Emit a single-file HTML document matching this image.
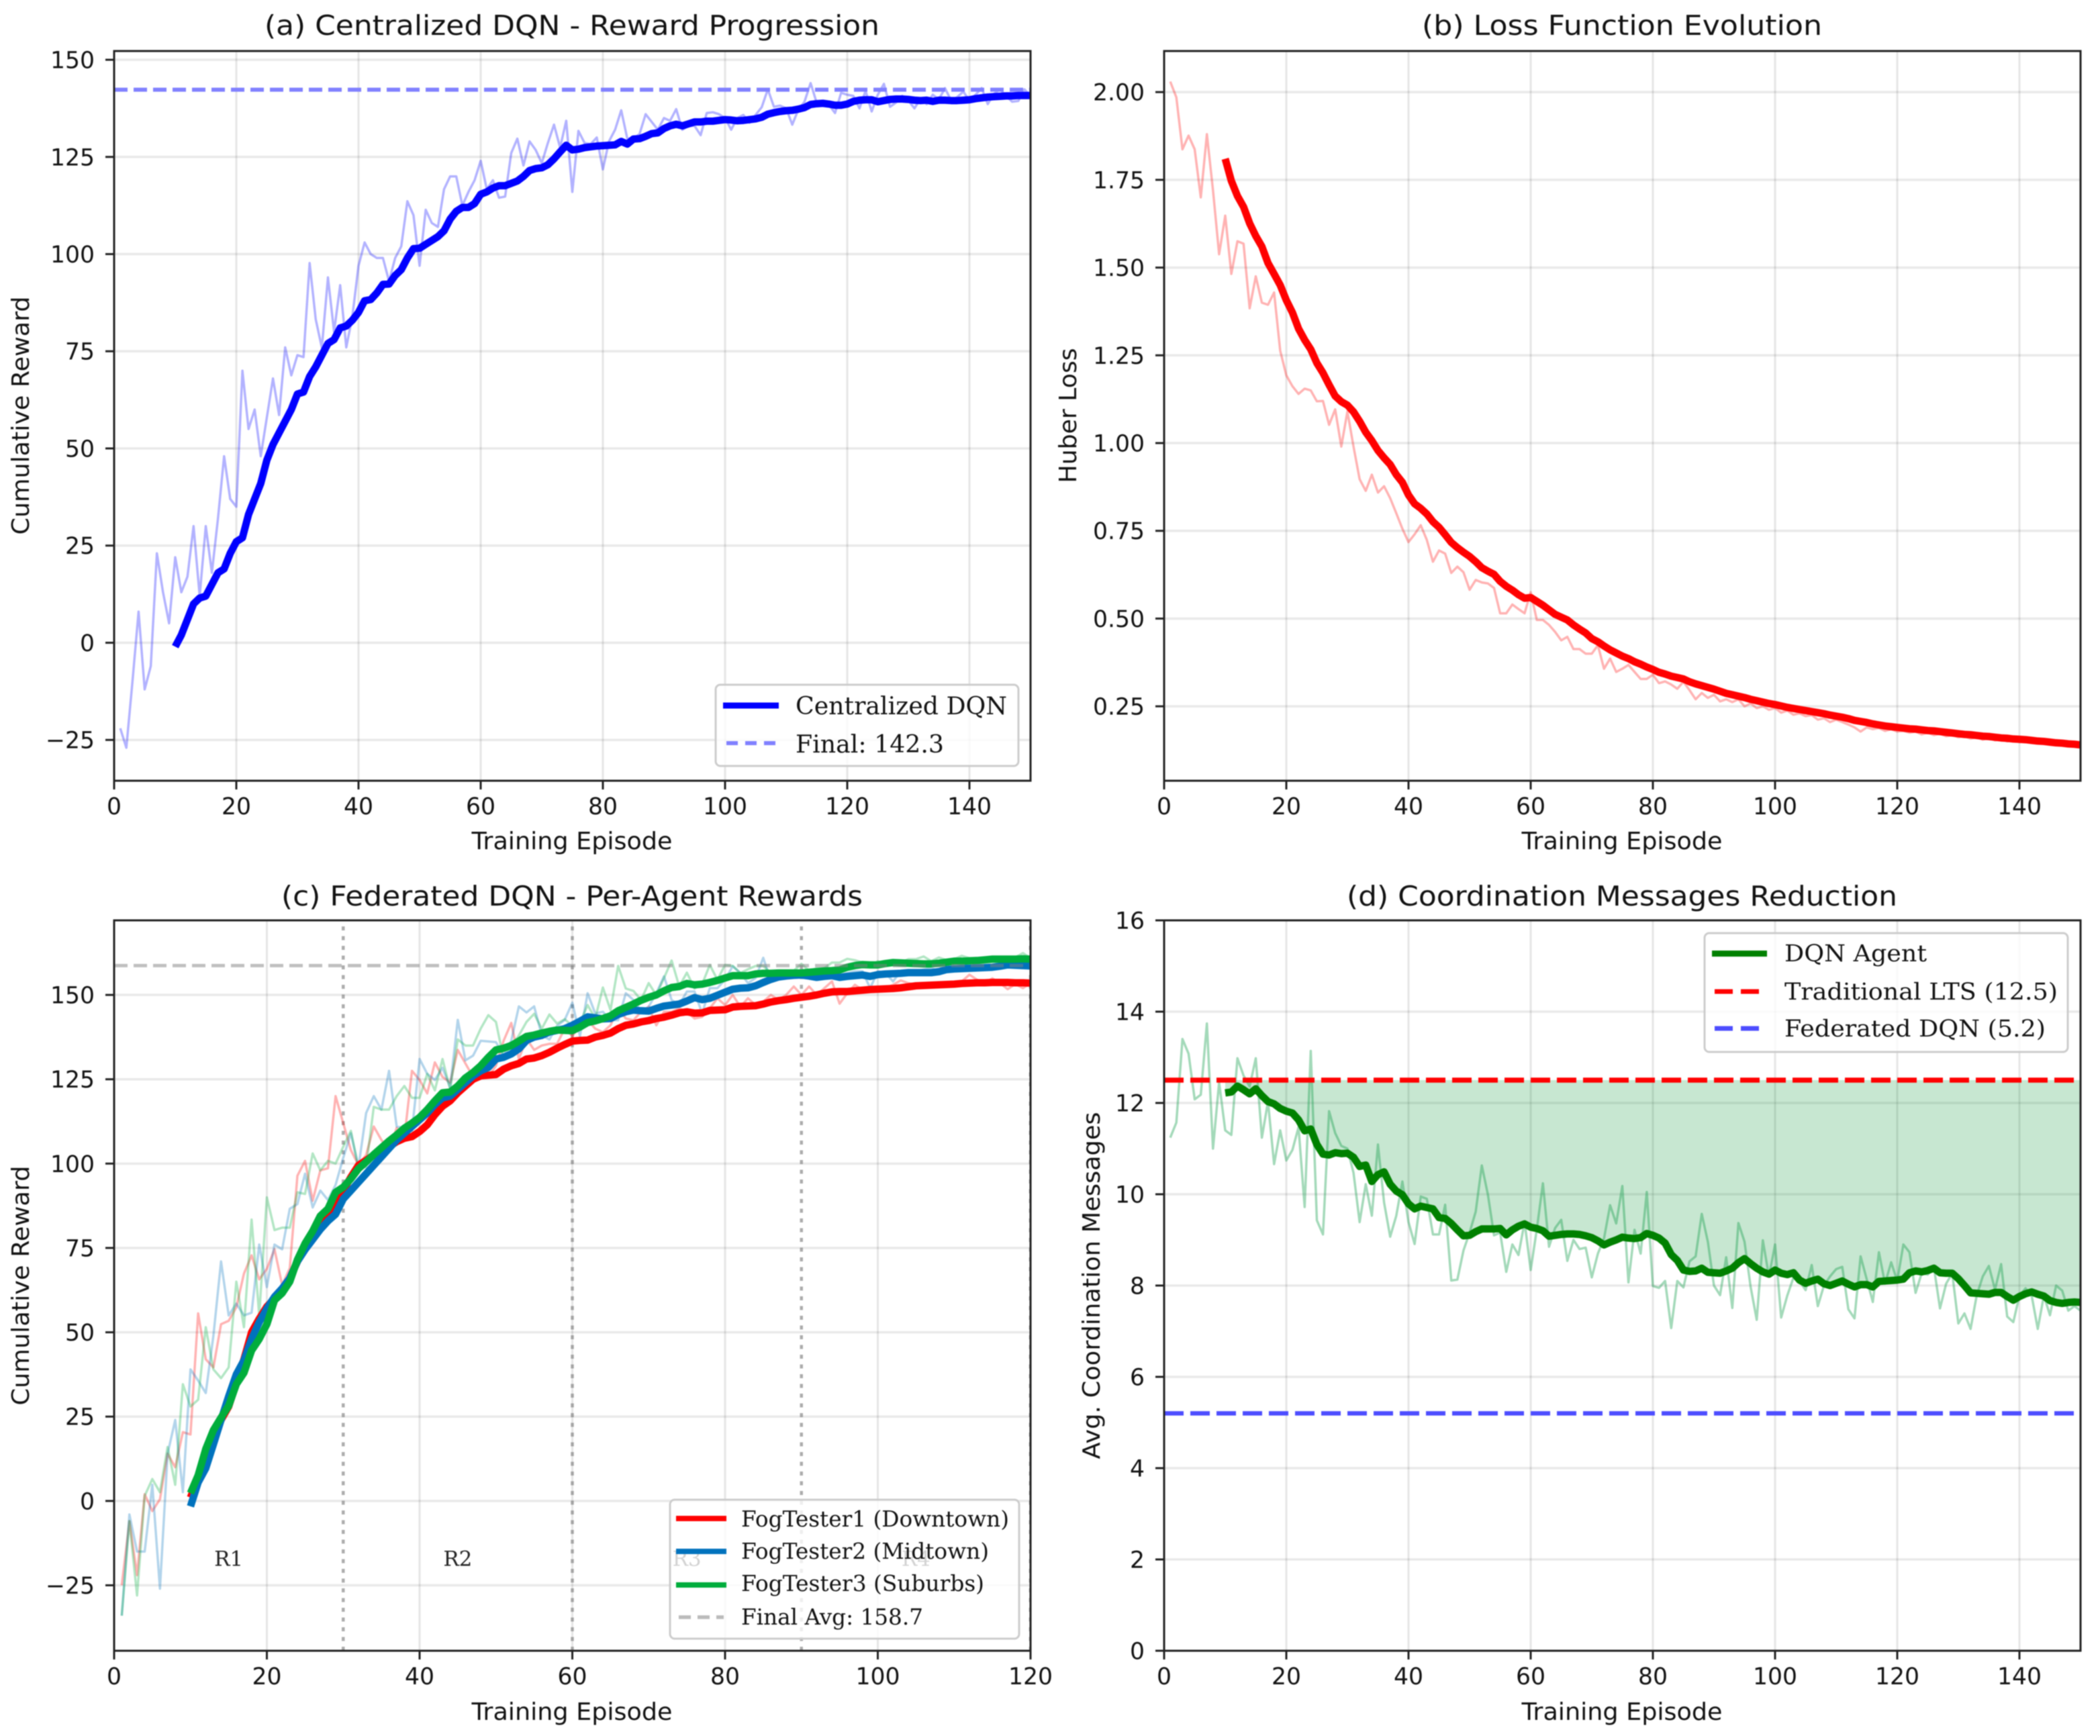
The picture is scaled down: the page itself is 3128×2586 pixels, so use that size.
<!DOCTYPE html>
<html lang="en">
<head>
<meta charset="utf-8">
<title>DQN training results</title>
<style>
html,body{margin:0;padding:0;background:#fff;width:3128px;height:2586px;overflow:hidden}
svg{display:block;filter:blur(0.9px)}
text{fill:#111;font-family:"DejaVu Sans","Liberation Sans",sans-serif}
.title{font-size:41px;text-anchor:middle}
.alabel{font-size:36px;text-anchor:middle}
.tick{font-size:34.6px}
.leg{font-family:"DejaVu Serif","Liberation Serif",serif;font-size:36px}
.round{font-family:"DejaVu Serif","Liberation Serif",serif;font-size:31px;fill:#222}
</style>
</head>
<body>
<svg id="chart" xmlns="http://www.w3.org/2000/svg" width="3128" height="2586" viewBox="0 0 3128 2586">
<rect width="3128" height="2586" fill="#fff"/>
<defs>
<clipPath id="clip-a"><rect x="170" y="76" width="1365" height="1087"/></clipPath>
<clipPath id="clip-b"><rect x="1734" y="76" width="1365" height="1087"/></clipPath>
<clipPath id="clip-c"><rect x="170" y="1371" width="1365" height="1088"/></clipPath>
<clipPath id="clip-d"><rect x="1734" y="1371" width="1365" height="1088"/></clipPath>
</defs>
<g id="panel-a"></g>
<g id="panel-b"></g>
<g id="panel-c"></g>
<g id="panel-d"></g>

<text class="title" x="852" y="52" textLength="916" lengthAdjust="spacingAndGlyphs">(a) Centralized DQN - Reward Progression</text>
<text class="title" x="2416" y="52" textLength="596" lengthAdjust="spacingAndGlyphs">(b) Loss Function Evolution</text>
<text class="title" x="852" y="1349" textLength="866" lengthAdjust="spacingAndGlyphs">(c) Federated DQN - Per-Agent Rewards</text>
<text class="title" x="2416" y="1349" textLength="820" lengthAdjust="spacingAndGlyphs">(d) Coordination Messages Reduction</text>

<text class="alabel" x="852" y="1265" textLength="299" lengthAdjust="spacingAndGlyphs">Training Episode</text>
<text class="alabel" x="2416" y="1265" textLength="299" lengthAdjust="spacingAndGlyphs">Training Episode</text>
<text class="alabel" x="852" y="2562" textLength="299" lengthAdjust="spacingAndGlyphs">Training Episode</text>
<text class="alabel" x="2416" y="2562" textLength="299" lengthAdjust="spacingAndGlyphs">Training Episode</text>

<text class="alabel" transform="translate(43 619) rotate(-90)" textLength="355" lengthAdjust="spacingAndGlyphs">Cumulative Reward</text>
<text class="alabel" transform="translate(1603 619) rotate(-90)" textLength="201" lengthAdjust="spacingAndGlyphs">Huber Loss</text>
<text class="alabel" transform="translate(43 1915) rotate(-90)" textLength="357" lengthAdjust="spacingAndGlyphs">Cumulative Reward</text>
<text class="alabel" transform="translate(1638 1915) rotate(-90)" textLength="517" lengthAdjust="spacingAndGlyphs">Avg. Coordination Messages</text>
</svg>

<script>
// ---------- tick labels ----------
const rewardYTicksA = [-25, 0, 25, 50, 75, 100, 125, 150];
const lossYTicks = [0.25, 0.5, 0.75, 1.0, 1.25, 1.5, 1.75, 2.0];
const rewardYTicksC = [-25, 0, 25, 50, 75, 100, 125, 150];
const messageYTicks = [0, 2, 4, 6, 8, 10, 12, 14, 16];
const episodeTicks150 = [0, 20, 40, 60, 80, 100, 120, 140];
const episodeTicks120 = [0, 20, 40, 60, 80, 100, 120];

// ---------- reference values ----------
const finalReward = 142.3;
const finalAverage = 158.7;
const traditionalLts = 12.5;
const federatedDqn = 5.2;
const roundBoundaries = [30, 60, 90, 120];
const roundCenters = [15, 45, 75, 105];
const roundNames = ['R1', 'R2', 'R3', 'R4'];
const rawFirstEpisode = 1;
const smoothFirstEpisode = 10;

// ---------- panel (a) ----------
const centralizedRaw = [-22,-27,-10,8,-12,-6,23,13,5,22,13,17,30,12,30,18,32,48,37,35,70,55,60,48,58,68,58.6,76,68.8,74,73.5,97.7,83.2,75.9,94,80,92,76,84,97,103,100,99,99,93,99,102,113.6,110,97,111.4,108,107,116.7,120,120,112.5,116,119,124,116.7,119,114.5,114.8,126,129.7,122.8,129,126.8,123.4,128.6,133.3,127.4,134.3,116,131.7,128.6,128.3,130,121.8,129,132,137,129.7,129.7,130.9,136,134,132,135,134.3,137.3,132,133,133,130.6,136.3,136.5,136,135,132,135,135.8,133.8,135.8,137.8,142.4,137.9,138.2,137.5,133.3,137.2,139.2,144,138.9,139.2,138.4,136.3,141.5,141,140.7,137.5,142,136.7,141,143.8,137.9,139,140.7,139.5,137.5,140,138.6,141,139.8,142.7,139.5,140.4,141.8,139.5,141,142.7,138.6,141.2,142.4,140.7,139.2,139.4,142.4,140.7];
const centralizedSmooth = [-1,2,6,10,11.5,12,15,18,19,23,26,27,33,37,41,47,51,54,57,60,64,64.5,68.5,71,74,77,78,81,81.5,83,85,88,88.3,90,92.2,92.3,94.5,96,99,101.4,101.5,102.5,103.5,104.5,106,109,111,112,112,113,115.4,116,117,117.6,117.6,118.2,118.8,120,121.5,122,122.2,123,124.5,126.3,128,126.8,127,127.4,127.6,127.8,127.9,128,128.1,129,128.3,129.6,129.7,130.3,131,131.2,132.3,133,133.4,133,133.5,134,134,134.2,134.2,134.4,134.6,134.5,134.3,134.4,134.6,134.8,135.2,136,136.4,136.7,136.9,137,137.3,137.7,138.5,138.7,138.8,138.6,138.3,138.3,138.6,139.3,139.6,139.7,139.7,139.2,139.5,139.8,139.9,139.9,139.8,139.6,139.5,139.6,139.3,139.6,139.6,139.5,139.5,139.6,139.7,140,140.2,140.4,140.5,140.6,140.7,140.7,140.8,140.8,140.8];

// ---------- panel (b) ----------
const lossRaw = [2.03,1.985,1.837,1.876,1.837,1.70,1.88,1.72,1.538,1.648,1.482,1.575,1.568,1.384,1.475,1.40,1.394,1.429,1.263,1.193,1.162,1.14,1.155,1.15,1.119,1.12,1.052,1.096,0.99,1.09,0.99,0.897,0.864,0.91,0.859,0.877,0.843,0.80,0.756,0.718,0.74,0.766,0.724,0.662,0.694,0.685,0.63,0.648,0.632,0.582,0.61,0.603,0.60,0.587,0.515,0.515,0.54,0.527,0.515,0.575,0.496,0.496,0.482,0.462,0.438,0.448,0.413,0.413,0.40,0.40,0.424,0.357,0.386,0.348,0.357,0.368,0.348,0.328,0.328,0.34,0.316,0.321,0.312,0.30,0.32,0.296,0.27,0.288,0.274,0.283,0.264,0.27,0.262,0.27,0.25,0.258,0.245,0.25,0.24,0.245,0.232,0.238,0.226,0.23,0.222,0.225,0.212,0.216,0.205,0.212,0.205,0.198,0.19,0.178,0.19,0.185,0.188,0.18,0.185,0.178,0.18,0.175,0.178,0.17,0.175,0.168,0.172,0.165,0.168,0.162,0.165,0.158,0.162,0.155,0.16,0.153,0.157,0.15,0.154,0.148,0.152,0.146,0.15,0.144,0.147,0.142,0.145,0.14,0.143,0.138];
const lossSmooth = [1.81,1.747,1.704,1.673,1.626,1.59,1.56,1.513,1.482,1.45,1.407,1.372,1.326,1.294,1.267,1.228,1.20,1.166,1.134,1.118,1.108,1.089,1.062,1.031,1.007,0.979,0.958,0.939,0.91,0.888,0.852,0.827,0.814,0.798,0.776,0.76,0.739,0.717,0.702,0.689,0.677,0.662,0.645,0.635,0.626,0.606,0.592,0.581,0.568,0.558,0.56,0.549,0.538,0.525,0.512,0.504,0.496,0.482,0.47,0.459,0.443,0.434,0.422,0.411,0.402,0.393,0.386,0.377,0.37,0.362,0.355,0.347,0.342,0.336,0.332,0.328,0.32,0.314,0.309,0.304,0.299,0.293,0.287,0.283,0.279,0.275,0.27,0.266,0.262,0.258,0.255,0.251,0.247,0.244,0.241,0.238,0.235,0.232,0.229,0.225,0.222,0.219,0.215,0.21,0.207,0.204,0.2,0.197,0.194,0.192,0.19,0.188,0.186,0.185,0.183,0.181,0.18,0.178,0.176,0.174,0.172,0.17,0.169,0.167,0.165,0.164,0.162,0.16,0.159,0.157,0.156,0.155,0.153,0.151,0.15,0.148,0.146,0.145,0.143,0.142,0.14];

// ---------- panel (c) ----------
const fog1Raw = [-25,-6,-22,2,-3,0.5,14,10,20.4,19.7,55.6,42,39.6,52.4,53.4,57.4,67.4,72.8,65.7,68.8,74.6,64,69,96.4,100.8,89,98,98.6,120,112,104,99.5,102.6,111,107,104,110.6,107.5,127.5,124.8,120.8,130,125.7,124,133.7,129.7,125.7,128,125.7,129,136.4,141.7,131,137,133.7,135,135.5,135.5,140,137.8,141,142.5,140,139,141,146,143,142.5,145,146.5,141,145,145,146,145,143,143.5,146,149,147,150,146.5,149,147,148,150,148.5,150,152.5,150,152.5,150,152,154,147.4,150.5,153,151.5,151,151,152,153,154.3,153.5,153,153,153,153,153.2,153.5,154,156,154.5,153.5,154.9,153.5,151.7,153.2,152,153.5];
const fog2Raw = [-34,-4,-15,-15,4.8,-26,14,24,2.6,39,35.7,32,49,71,55,58.5,55,55.8,76,63.4,76,74.6,86.6,88,97,87,92,89.2,93.7,101.7,109,99,115,120,116,127.5,111,110.6,109.7,131,126.6,124.8,128.4,122.6,142.6,130.6,132,136.4,136.2,136,132,136.4,146.6,144.8,146.6,138,136.8,140.8,142.6,147.7,137.8,150.5,144.5,145,142.5,142.5,150.5,148.5,145,146.5,150.5,155.5,148.5,147,151,151,144.5,152,152,154.5,158.5,156.5,153.5,155,161,154,155,156,156,156.5,156,155,155.5,156,156,156.5,157,157,152,157,156.5,154,157,156.5,157,157.5,158,157,158,158.5,158,158.5,157.5,158,158.5,158,159,158.5,158.5,158];
const fog3Raw = [-34,-6,-28,1.5,6.5,2.6,16,4.8,34.6,28,30,51.5,39,36.4,39.6,65,51.5,83.4,55,90,80.3,81,81,91.5,91,103,98,100.8,100,105,109.7,98.6,99,116.8,116,116,120,123,119.5,119.5,126.6,121.7,131,122,136.8,135,135,140,144,142,131,134.6,138,142,144.4,140,144.2,141.5,142.8,140.8,141.7,147,143,152.2,145.5,158.6,151.9,151.2,148.5,153.5,149.9,155,160.2,152.5,156.6,151.9,153.2,158.9,154.5,158.9,158.6,156.5,157.6,158.6,158.6,156.5,156.5,156.9,157.2,159.2,157.2,157.9,157.9,159.6,159.6,160.7,160.3,159.6,158.6,160,158.6,160,159.6,160.6,160.6,161.4,160,161.1,160.3,160.6,161.6,160.9,160.6,160.7,160.4,160.9,160.6,161.1,162.4,160.9];
const fog1Smooth = [1,7,12,19,24,28,35,42,50,54,57.6,60,62,66,71,75,79,81,84,89,92,96,99.5,101,102.5,103.5,105,106.5,107.5,108,109.5,111.5,114.5,117,118.6,121,123,125,126,126.2,126.4,128,129,129.7,131,131.3,132,133,134.2,135.3,136.3,136.5,136.6,137.5,138,138.7,140,141,141.4,142,142.4,143,143.4,144,144.7,145,144.6,144.7,145.4,145.5,145.6,146.4,146.6,146.7,146.8,147.3,147.9,148.3,148.6,149,149.3,149.6,150,150.5,150.9,151,151,151.2,151.4,151.6,151.7,151.8,151.9,152.1,152.4,152.7,152.8,152.9,153,153.1,153.2,153.4,153.5,153.6,153.6,153.7,153.7,153.7,153.6,153.6,153.5];
const fog2Smooth = [-1.6,5.5,9.7,16.8,24,31,37.5,41.7,48,53,57,60.5,63,66,71,74.5,77.5,80.5,83,85,89.5,92,94.5,97,99.5,102,104.5,107,109,111,113,115,117.5,119.5,120,122,124,126,127.5,128.5,131,131.5,132.5,134,136.5,137.5,138,139,139.5,140,141,142.2,143.5,143.2,142.9,143,144.2,145,145.5,145.3,145.2,146,146.7,147,147.3,148.2,149.2,148.6,149,149.9,150.8,151.7,152,152.1,152.7,153.7,154.6,155.3,155.6,155.8,155.9,155.6,155.2,155.5,155.7,155.2,155.5,155.7,155.9,155.5,156,156.2,156.3,156.4,156.6,156.6,156.6,156.6,156.9,157.5,157.7,157.8,157.9,158,158.1,158.2,158.5,158.9,158.8,158.7,158.6];
const fog3Smooth = [2.3,7.6,15.4,21,24.7,28.2,34.6,38,44.6,48,52.4,59.5,61.6,65,71.5,76.3,80,84.5,86.6,91.5,93,95.5,98.5,100.5,102.7,104.7,106.7,108.5,110.5,112,113.7,116,118.6,121,121.2,123,125.4,127,129,131.5,133.7,134.2,135,136.3,137.7,138.1,138.7,139.2,139.6,139.5,139.4,140.5,141.8,142.3,143,143.8,145.3,146.3,147.3,148.4,149.3,150,151.2,152.2,152.5,153.4,153,153.2,153.7,154.3,155,155.7,155.7,155.7,156.2,156.4,156.4,156.5,156.5,156.5,156.5,156.7,156.9,157.1,157.2,157.4,158.2,158.7,159,158.9,158.9,159.3,159.6,159.5,159.4,159.3,159.2,159.2,159.4,159.7,160,160,160.1,160.2,160.4,160.6,160.6,160.6,160.6,160.7,160.6];

// ---------- panel (d) ----------
const messagesRaw = [11.24,11.57,13.4,13.08,12.08,12.18,13.74,11,12.45,11.4,11.3,12.98,12.6,12.36,12.98,11.24,12.03,10.66,11.4,10.74,10.97,11.47,9.72,13.14,9.43,9.12,11.82,11.34,11.06,11,10.47,9.39,10.22,9.53,11.09,9.82,9.07,9.53,10.28,9.39,8.91,9.95,9.9,9.12,9.12,9.77,8.11,8.13,8.77,9.16,9.62,10.63,9.99,9.1,9.16,8.3,8.9,8.67,9.39,8.34,9.23,10.24,8.85,9.26,9.44,8.54,9,8.8,8.83,8.18,8.7,9.03,9.76,9.36,10.18,8.07,9.22,8.7,10.05,7.99,7.95,8.1,7.07,8.1,7.96,8.53,8.64,9.57,8.96,8,7.79,8.62,7.51,9.37,8.96,7.97,7.25,8.99,8.2,8.9,7.3,7.78,8.17,8.1,7.9,8.45,7.55,8,8.2,8.36,8.41,7.48,7.28,8.64,8.14,7.64,8.73,8.04,8.51,8.1,8.9,8.73,7.84,8.27,8.24,8.4,7.5,8.04,8.27,7.17,7.39,7.05,7.78,8.2,8.43,7.91,8.47,7.32,7.2,7.78,7.94,7.78,7.05,7.78,7.35,8,7.89,7.45,7.55,7.45];
const messagesSmooth = [12.22,12.24,12.37,12.29,12.2,12.31,12.16,12.03,11.98,11.88,11.82,11.78,11.63,11.39,11.43,11.09,10.88,10.86,10.91,10.89,10.9,10.81,10.61,10.64,10.28,10.43,10.49,10.22,10.07,9.99,9.79,9.68,9.74,9.71,9.68,9.49,9.47,9.36,9.22,9.09,9.1,9.18,9.24,9.24,9.24,9.25,9.11,9.22,9.3,9.35,9.28,9.25,9.2,9.08,9.1,9.12,9.13,9.13,9.12,9.09,9.05,8.98,8.89,8.95,9,9.06,9.04,9.03,9.05,9.14,9.1,9.04,8.93,8.68,8.55,8.34,8.31,8.32,8.38,8.29,8.28,8.27,8.32,8.38,8.5,8.59,8.48,8.38,8.3,8.25,8.34,8.27,8.24,8.28,8.12,8.05,8.1,8.14,8.04,8,8.05,8.1,8.03,7.97,8.02,8.02,7.97,8.09,8.1,8.11,8.12,8.14,8.28,8.32,8.3,8.33,8.38,8.28,8.27,8.27,8.15,8,7.84,7.83,7.82,7.81,7.85,7.85,7.76,7.68,7.76,7.82,7.86,7.81,7.77,7.67,7.63,7.61,7.63,7.64,7.63];

// ---------- drawing helpers ----------
const SVG_NS = 'http://www.w3.org/2000/svg';
function node(tag, parent, attrs) {
  const n = document.createElementNS(SVG_NS, tag);
  for (const k in attrs) n.setAttribute(k, attrs[k]);
  parent.appendChild(n);
  return n;
}
function scale(d0, d1, r0, r1) {
  return v => r0 + (v - d0) * (r1 - r0) / (d1 - d0);
}
function fmtTick(v, decimals) {
  const s = Math.abs(v).toFixed(decimals);
  return (v < 0 ? '\u2212' : '') + s;
}
function pointsOf(values, firstEpisode, X, Y) {
  return values.map((v, i) => X(firstEpisode + i).toFixed(2) + ',' + Y(v).toFixed(2)).join(' ');
}

function drawAxes(g, box, X, Y, xTicks, yTicks) {
  const grid = node('g', g, {});
  
  
  xTicks.forEach(v => {
    const l = node('line', grid, { x1: X(v), x2: X(v), y1: box.top, y2: box.bottom, stroke: '#000', 'stroke-opacity': 0.1, 'stroke-width': 3 });
    
    
  });
  yTicks.forEach(v => {
    const l = node('line', grid, { x1: box.left, x2: box.right, y1: Y(v), y2: Y(v), stroke: '#000', 'stroke-opacity': 0.085, 'stroke-width': 3.5 });
    
    
  });
}
function drawFrame(g, box, X, Y, xTicks, yTicks, decimals) {
  xTicks.forEach(v => {
    const t = node('line', g, { x1: X(v), x2: X(v), y1: box.bottom, y2: box.bottom + 13, stroke: '#222', 'stroke-width': 3 });
    
    
    const lab = node('text', g, { class: 'tick', x: X(v), y: box.bottom + 50, 'text-anchor': 'middle' });
    lab.textContent = fmtTick(v, 0);
    
    
  });
  yTicks.forEach(v => {
    const t = node('line', g, { x1: box.left - 13, x2: box.left, y1: Y(v), y2: Y(v), stroke: '#222', 'stroke-width': 3 });
    
    
    const lab = node('text', g, { class: 'tick', x: box.left - 29, y: Y(v) + 12.5, 'text-anchor': 'end' });
    lab.textContent = fmtTick(v, decimals);
    
    
  });
  const frame = node('rect', g, { x: box.left, y: box.top, width: box.right - box.left, height: box.bottom - box.top, fill: 'none', stroke: '#222', 'stroke-width': 3 });
  
  
}
function drawLegendBox(g, x, y, w, h) {
  const r = node('rect', g, { x: x, y: y, width: w, height: h, rx: 7, ry: 7, fill: '#fff', 'fill-opacity': 0.8, stroke: '#ccc', 'stroke-width': 3 });
  
  
}
function drawLegendSample(g, x1, x2, y, color, width, dash) {
  const l = node('line', g, { x1: x1, x2: x2, y1: y, y2: y, stroke: color, 'stroke-width': width });
  if (dash) l.setAttribute('stroke-dasharray', dash);
  
  
}
function drawLegendText(g, x, y, str, len, size) {
  const t = node('text', g, { class: 'leg', x: x, y: y, textLength: len, lengthAdjust: 'spacingAndGlyphs', style: 'font-size:' + size + 'px' });
  t.textContent = str;
  
  
}
function drawLine(g, values, first, X, Y, color, width, opacity, name) {
  const p = node('polyline', g, { points: pointsOf(values, first, X, Y), fill: 'none', stroke: color, 'stroke-width': width, 'stroke-opacity': opacity, 'stroke-linejoin': 'round' });
  
  
}
function drawHLine(g, box, y, color, width, dash, name) {
  const l = node('line', g, { x1: box.left, x2: box.right, y1: y, y2: y, stroke: color, 'stroke-width': width, 'stroke-dasharray': dash });
  
  
}

// ---------- panel (a) ----------
(function () {
  const g = document.getElementById('panel-a');
  const box = { left: 170, right: 1535, top: 76, bottom: 1163 };
  const X = scale(0, 150, box.left, box.right);
  const Y = scale(-35.5, 152.25, box.bottom, box.top);
  drawAxes(g, box, X, Y, episodeTicks150, rewardYTicksA);
  const plot = node('g', g, { 'clip-path': 'url(#clip-a)' });
  
  
  drawLine(plot, centralizedRaw, rawFirstEpisode, X, Y, '#0000ff', 3.5, 0.3, 'raw-reward-line');
  drawLine(plot, centralizedSmooth, smoothFirstEpisode, X, Y, '#0000ff', 11, 1, 'smoothed-reward-line');
  drawHLine(plot, box, Y(finalReward), '#8080ff', 6, '20 9', 'final-reward-line');
  drawFrame(g, box, X, Y, episodeTicks150, rewardYTicksA, 0);
  const lg = node('g', g, {});
  
  
  drawLegendBox(lg, 1066, 1020, 451, 121);
  drawLegendSample(lg, 1077, 1160, 1051, '#0000ff', 9);
  drawLegendText(lg, 1185, 1064, 'Centralized DQN', 315, 36);
  drawLegendSample(lg, 1082, 1155, 1107, '#8080ff', 6, '17 11');
  drawLegendText(lg, 1185, 1121, 'Final: ' + finalReward.toFixed(1), 221, 36);
})();

// ---------- panel (b) ----------
(function () {
  const g = document.getElementById('panel-b');
  const box = { left: 1734, right: 3099, top: 76, bottom: 1163 };
  const X = scale(0, 150, box.left, box.right);
  const Y = scale(0.038, 2.117, box.bottom, box.top);
  drawAxes(g, box, X, Y, episodeTicks150, lossYTicks);
  const plot = node('g', g, { 'clip-path': 'url(#clip-b)' });
  
  
  drawLine(plot, lossRaw, rawFirstEpisode, X, Y, '#ff0000', 3.5, 0.3, 'raw-loss-line');
  drawLine(plot, lossSmooth, smoothFirstEpisode, X, Y, '#ff0000', 11, 1, 'smoothed-loss-line');
  drawFrame(g, box, X, Y, episodeTicks150, lossYTicks, 2);
})();

// ---------- panel (c) ----------
(function () {
  const g = document.getElementById('panel-c');
  const box = { left: 170, right: 1535, top: 1371, bottom: 2459 };
  const X = scale(0, 120, box.left, box.right);
  const Y = scale(-44.4, 172.1, box.bottom, box.top);
  drawAxes(g, box, X, Y, episodeTicks120, rewardYTicksC);
  const plot = node('g', g, { 'clip-path': 'url(#clip-c)' });
  
  
  roundBoundaries.forEach(b => {
    const l = node('line', plot, { x1: X(b), x2: X(b), y1: box.bottom, y2: box.top, stroke: '#808080', 'stroke-opacity': 0.65, 'stroke-width': 4.5, 'stroke-dasharray': '6 8.5' });
    
    
  });
  roundCenters.forEach((c, i) => {
    const t = node('text', plot, { class: 'round', x: X(c), y: Y(-17) + 11, 'text-anchor': 'middle' });
    t.textContent = roundNames[i];
    
    
  });
  drawLine(plot, fog1Raw, rawFirstEpisode, X, Y, '#ff0000', 3.5, 0.3, 'fogtester1-raw-line');
  drawLine(plot, fog2Raw, rawFirstEpisode, X, Y, '#0072bd', 3.5, 0.3, 'fogtester2-raw-line');
  drawLine(plot, fog3Raw, rawFirstEpisode, X, Y, '#00ad3c', 3.5, 0.3, 'fogtester3-raw-line');
  drawLine(plot, fog1Smooth, smoothFirstEpisode, X, Y, '#ff0000', 11, 1, 'fogtester1-smoothed-line');
  drawLine(plot, fog2Smooth, smoothFirstEpisode, X, Y, '#0072bd', 11, 1, 'fogtester2-smoothed-line');
  drawLine(plot, fog3Smooth, smoothFirstEpisode, X, Y, '#00ad3c', 11, 1, 'fogtester3-smoothed-line');
  drawHLine(plot, box, Y(finalAverage), '#808080', 5, '20 9', 'final-average-line');
  plot.lastChild.setAttribute('stroke-opacity', '0.5');
  drawFrame(g, box, X, Y, episodeTicks120, rewardYTicksC, 0);
  const lg = node('g', g, {});
  
  
  drawLegendBox(lg, 998, 2234, 520, 207);
  drawLegendSample(lg, 1007, 1082, 2262, '#ff0000', 8);
  drawLegendText(lg, 1104, 2274, 'FogTester1 (Downtown)', 399, 33);
  drawLegendSample(lg, 1007, 1082, 2311, '#0072bd', 8);
  drawLegendText(lg, 1104, 2322, 'FogTester2 (Midtown)', 369, 33);
  drawLegendSample(lg, 1007, 1082, 2361, '#00ad3c', 8);
  drawLegendText(lg, 1104, 2370, 'FogTester3 (Suburbs)', 362, 33);
  drawLegendSample(lg, 1011, 1078, 2409, '#bbbbbb', 5.5, '18 10');
  drawLegendText(lg, 1104, 2420, 'Final Avg: ' + finalAverage.toFixed(1), 271, 33);
})();

// ---------- panel (d) ----------
(function () {
  const g = document.getElementById('panel-d');
  const box = { left: 1734, right: 3099, top: 1371, bottom: 2459 };
  const X = scale(0, 150, box.left, box.right);
  const Y = scale(0, 16, box.bottom, box.top);
  drawAxes(g, box, X, Y, episodeTicks150, messageYTicks);
  const plot = node('g', g, { 'clip-path': 'url(#clip-d)' });
  
  
  const lastEpisode = smoothFirstEpisode + messagesSmooth.length - 1;
  const fillPts = pointsOf(messagesSmooth, smoothFirstEpisode, X, Y) + ' ' + X(lastEpisode) + ',' + Y(traditionalLts) + ' ' + X(smoothFirstEpisode) + ',' + Y(traditionalLts);
  const band = node('polygon', plot, { points: fillPts, fill: '#00902e', 'fill-opacity': 0.22 });
  
  
  drawLine(plot, messagesRaw, rawFirstEpisode, X, Y, '#00963c', 3.5, 0.36, 'raw-messages-line');
  drawLine(plot, messagesSmooth, smoothFirstEpisode, X, Y, '#008000', 11, 1, 'dqn-agent-line');
  drawHLine(plot, box, Y(traditionalLts), '#ff0000', 7.5, '29 10', 'traditional-lts-line');
  drawHLine(plot, box, Y(federatedDqn), '#4d4dff', 6.5, '29 10', 'federated-dqn-line');
  drawFrame(g, box, X, Y, episodeTicks150, messageYTicks, 0);
  const lg = node('g', g, {});
  
  
  drawLegendBox(lg, 2539, 1390, 541, 177);
  drawLegendSample(lg, 2550, 2632, 1420.5, '#008000', 9);
  drawLegendText(lg, 2658, 1432, 'DQN Agent', 212, 35);
  drawLegendSample(lg, 2554, 2620, 1477, '#ff0000', 7, '27 12');
  drawLegendText(lg, 2658, 1489, 'Traditional LTS (' + traditionalLts + ')', 407, 35);
  drawLegendSample(lg, 2554, 2620, 1532, '#4d4dff', 7, '27 12');
  drawLegendText(lg, 2658, 1544, 'Federated DQN (' + federatedDqn + ')', 389, 35);
})();
</script>
</body>
</html>
